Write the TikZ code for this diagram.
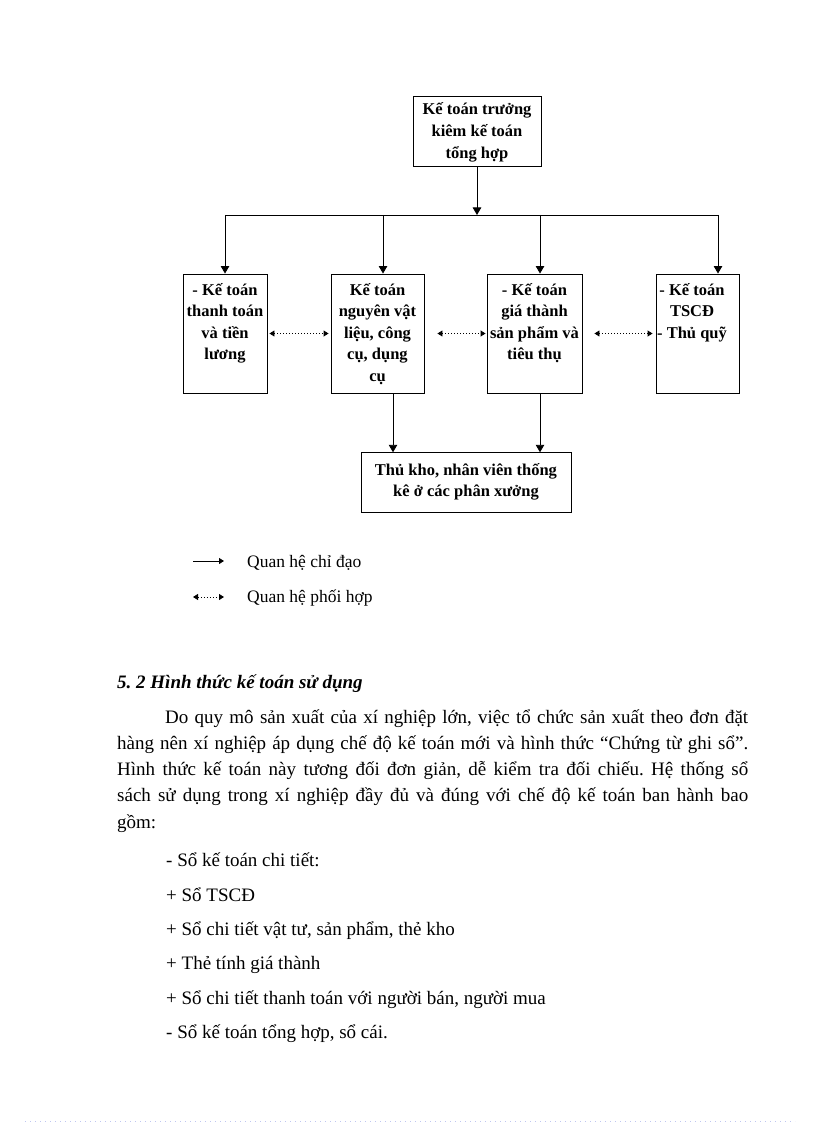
\documentclass[tikz,border=0pt]{standalone}
\usepackage{fontspec}
\setmainfont{Liberation Serif}
\usetikzlibrary{arrows.meta}
\frenchspacing
\begin{document}
\begin{tikzpicture}[x=1pt,y=-1pt,
  box/.style={draw, line width=0.9pt, inner sep=0pt, minimum height=119pt},
  btext/.style={inner sep=0pt, anchor=base, font=\fontsize{16.5}{21.6}\selectfont\bfseries},
  conn/.style={line width=0.9pt},
  arr/.style={line width=0.9pt, -{Triangle[width=8.5pt,length=7.5pt]}},
  darr/.style={line width=0.9pt, dash pattern=on 1pt off 2pt, {Triangle[width=6pt,length=5pt]}-{Triangle[width=6pt,length=5pt]}},
  larr/.style={line width=0.9pt, -{Triangle[width=6pt,length=5pt]}},
  ldarr/.style={line width=0.9pt, dash pattern=on 1pt off 2pt, {Triangle[width=6pt,length=5pt]}-{Triangle[width=6pt,length=5pt]}},
  legtext/.style={inner sep=0pt, anchor=base west, font=\fontsize{17.5}{20}\selectfont},
  body/.style={inner sep=0pt, anchor=base west, font=\fontsize{19}{26}\selectfont},
  head/.style={inner sep=0pt, anchor=base west, font=\fontsize{19}{26}\selectfont\bfseries\itshape}
]
\useasboundingbox (0,0) rectangle (816,1123);
\fill[white] (0,0) rectangle (816,1123);

% boxes
\node[box, minimum width=128pt, minimum height=70pt] (top) at (477,131) {};
\node[box, minimum width=84pt] (b1) at (225,333.5) {};
\node[box, minimum width=93pt] (b2) at (377.5,333.5) {};
\node[box, minimum width=95pt] (b3) at (534.5,333.5) {};
\node[box, minimum width=83pt] (b4) at (697.5,333.5) {};
\node[box, minimum width=210pt, minimum height=59.3pt] (bb) at (466,482.4) {};

% box texts
\node[btext] (ttop) at (477,115) {\parbox[t]{128pt}{\centering Kế toán trưởng\\kiêm kế toán\\tổng hợp}};
\node[btext] (t1) at (225,295) {\parbox[t]{92pt}{\centering - Kế toán\\thanh toán\\và tiền\\lương}};
\node[btext] (t2) at (377.5,295) {\parbox[t]{93pt}{\centering Kế toán\\nguyên vật\\liệu, công\\cụ, dụng\\cụ}};
\node[btext] (t3) at (534.5,295) {\parbox[t]{100pt}{\centering - Kế toán\\giá thành\\sản phẩm và\\tiêu thụ}};
\node[btext] (t4) at (692,295) {\parbox[t]{90pt}{\centering - Kế toán\\TSCĐ\\- Thủ quỹ}};
\node[btext] (tbb) at (466,475) {\parbox[t]{210pt}{\centering\baselineskip=21pt Thủ kho, nhân viên thống\\kê ở các phân xưởng}};

% connectors
\coordinate (j1) at (225,215);
\coordinate (j2) at (383,215);
\coordinate (j3) at (540,215);
\coordinate (j4) at (718,215);
\draw[arr] (top.south) -- (top.south |- j1);
\draw[conn] (j1) -- (j4);
\draw[arr] (j1) -- (j1 |- b1.north);
\draw[arr] (j2) -- (j2 |- b2.north);
\draw[arr] (j3) -- (j3 |- b3.north);
\draw[arr] (j4) -- (j4 |- b4.north);
\draw[arr] ([xshift=15.5pt]b2.south) -- ([xshift=15.5pt]b2.south |- bb.north);
\draw[arr] ([xshift=5.5pt]b3.south) -- ([xshift=5.5pt]b3.south |- bb.north);
\draw[darr, shorten <=2pt, shorten >=2pt] (b1.east) -- (b2.west);
\draw[darr, shorten <=13pt, shorten >=1pt] (b2.east) -- (b3.west);
\draw[darr, shorten <=12pt, shorten >=3pt] (b3.east) -- (b4.west);

% legend
\coordinate (l1a) at (193,561);
\coordinate (l1b) at (224,561);
\coordinate (l2a) at (193,597);
\coordinate (l2b) at (224,597);
\draw[larr] (l1a) -- (l1b);
\draw[ldarr] (l2a) -- (l2b);
\node[legtext] (lg1) at (247,567.5) {Quan hệ chỉ đạo};
\node[legtext] (lg2) at (247,602.5) {Quan hệ phối hợp};

% text
\node[head] (h) at (117,688) {5. 2 Hình thức kế toán sử dụng};
\node[body] (p1) at (165,723) {\makebox[583pt][s]{Do quy mô sản xuất của xí nghiệp lớn, việc tổ chức sản xuất theo đơn đặt}};
\node[body] (p2) at (117,749.3) {\makebox[631pt][s]{hàng nên xí nghiệp áp dụng chế độ kế toán mới và hình thức “Chứng từ ghi sổ”.}};
\node[body] (p3) at (117,775.6) {\makebox[631pt][s]{Hình thức kế toán này tương đối đơn giản, dễ kiểm tra đối chiếu. Hệ thống sổ}};
\node[body] (p4) at (117,801.9) {\makebox[631pt][s]{sách sử dụng trong xí nghiệp đầy đủ và đúng với chế độ kế toán ban hành bao}};
\node[body] (p5) at (117,828) {gồm:};

\node[body] (s1) at (166,866.7) {- Sổ kế toán chi tiết:};
\node[body] (s2) at (166,901) {+ Sổ TSCĐ};
\node[body] (s3) at (166,935.6) {+ Sổ chi tiết vật tư, sản phẩm, thẻ kho};
\node[body] (s4) at (166,969.8) {+ Thẻ tính giá thành};
\node[body] (s5) at (166,1004.2) {+ Sổ chi tiết thanh toán với người bán, người mua};
\node[body] (s6) at (166,1038.5) {- Sổ kế toán tổng hợp, sổ cái.};

% page edge dotted line
\draw[color={rgb,255:red,190;green,198;blue,240}, dash pattern=on 1pt off 4pt, line width=1pt] (25,1121.5) -- (795,1121.5);
\end{tikzpicture}
\end{document}
